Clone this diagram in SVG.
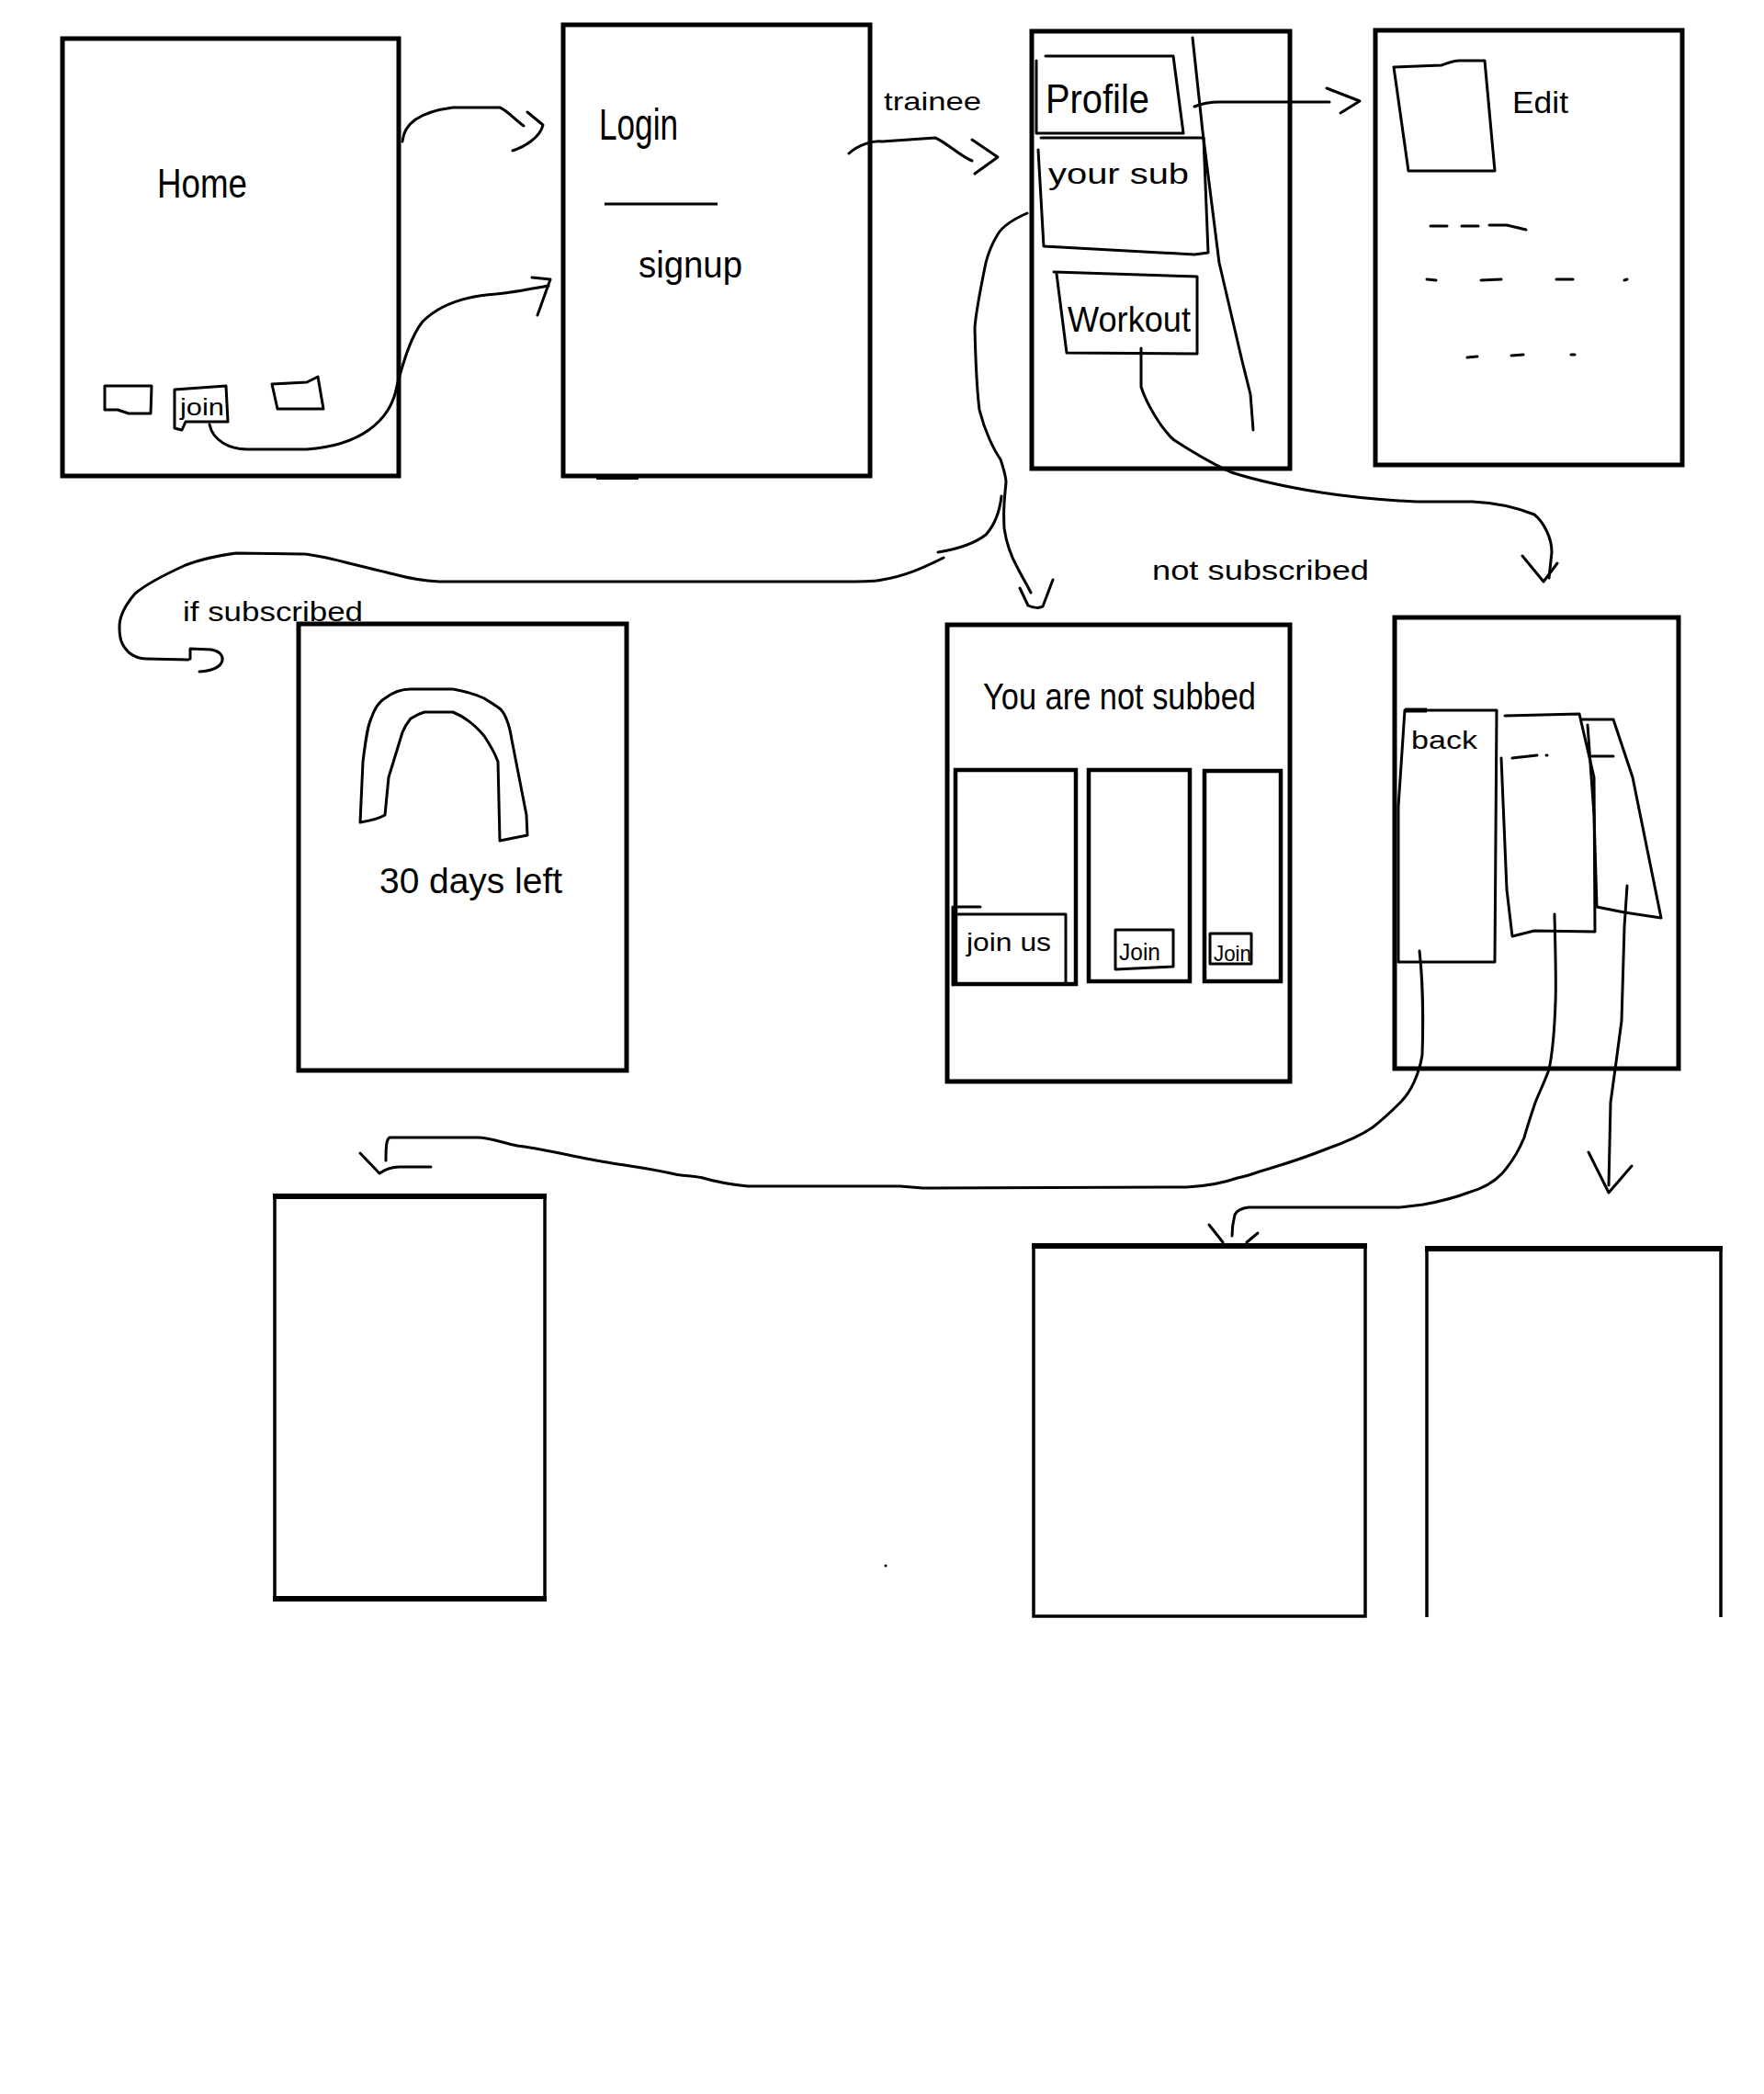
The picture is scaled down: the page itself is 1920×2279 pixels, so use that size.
<svg xmlns="http://www.w3.org/2000/svg" width="1920" height="2279" viewBox="0 0 1920 2279">
<style>
.scr{fill:none;stroke:#000;stroke-width:5}
.thin{fill:none;stroke:#000;stroke-width:3;stroke-linejoin:round;stroke-linecap:round}
.mid{fill:none;stroke:#000;stroke-width:4.5}
.con{fill:none;stroke:#000;stroke-width:3;stroke-linejoin:round;stroke-linecap:round}
.t{font-family:"Liberation Sans","DejaVu Sans",sans-serif;fill:#000}
</style>
<rect width="1920" height="2279" fill="#fff"/>

<g id="home">
<rect class="scr" x="68" y="42" width="366" height="476"/>
<text class="t" x="171" y="215" font-size="44" textLength="98" lengthAdjust="spacingAndGlyphs">Home</text>
<path class="thin" d="M114,420 L165,420 L164,450 L140,450 L128,446 L114,446 Z"/>
<path class="thin" d="M190,424 L246,420 L248,459 L202,459 L198,468 L190,466 Z"/>
<text class="t" x="196" y="452" font-size="26" textLength="48" lengthAdjust="spacingAndGlyphs">join</text>
<path class="thin" d="M296,418 L334,416 L346,410 L352,445 L302,445 Z"/>
</g>

<g id="login">
<rect class="scr" x="613" y="27" width="334" height="491"/>
<line x1="649" y1="520" x2="695" y2="520" stroke="#000" stroke-width="4"/>
<text class="t" x="652" y="152" font-size="48" textLength="86" lengthAdjust="spacingAndGlyphs">Login</text>
<line x1="658" y1="222" x2="781" y2="222" stroke="#000" stroke-width="3"/>
<text class="t" x="695" y="302" font-size="40" textLength="113" lengthAdjust="spacingAndGlyphs">signup</text>
</g>

<g id="trainee-menu">
<rect class="scr" x="1123" y="34" width="281" height="476"/>
<path class="thin" d="M1138,61 L1277,61 L1288,145 L1128,145 L1128,66"/>
<text class="t" x="1138" y="123" font-size="44" textLength="113" lengthAdjust="spacingAndGlyphs">Profile</text>
<path class="thin" d="M1133,150 L1310,150 L1315,275 L1300,277 L1136,268 L1130,163"/>
<text class="t" x="1141" y="200" font-size="32" textLength="153" lengthAdjust="spacingAndGlyphs">your sub</text>
<path class="thin" d="M1147,296 L1303,301 L1303,385 L1161,384 L1150,298"/>
<text class="t" x="1162" y="361" font-size="38" textLength="134" lengthAdjust="spacingAndGlyphs">Workout</text>
<path class="thin" d="M1298,41 L1309,143 L1327,286 L1352,393 L1361,429 L1364,468"/>
</g>

<g id="edit-profile">
<rect class="scr" x="1497" y="33" width="334" height="473"/>
<path class="thin" d="M1517,73 L1569,71 C1578,68 1582,66 1588,66 L1616,66 L1627,186 L1533,186 Z"/>
<text class="t" x="1646" y="123" font-size="34" textLength="61" lengthAdjust="spacingAndGlyphs">Edit</text>
<path class="thin" d="M1557,246 L1575,246 M1591,246 L1609,246 M1621,245 L1640,245 L1661,250"/>
<path class="thin" d="M1553,304 L1563,305 M1612,305 L1634,304 M1694,304 L1712,304 M1768,305 L1771,304"/>
<path class="thin" d="M1597,389 L1608,388 M1645,387 L1658,386 M1710,386 L1714,386"/>
</g>

<g id="subscribed">
<rect class="scr" x="325" y="679" width="357" height="486"/>
<path class="thin" d="M392,895 L395,829 C398,805 400,790 404,782 C408,770 412,764 419,760 C428,753 438,750 447,750 L493,750 C505,752 518,756 527,760 C535,765 540,768 545,772 C552,780 555,792 557,805 L573,887 L574,909 L544,915 L542,829 C538,818 533,810 527,801 C518,790 505,780 493,775 L462,775 C455,777 450,780 447,782 C443,787 440,792 438,797 L423,846 L419,887 C414,890 405,893 392,895 Z"/>
<text class="t" x="413" y="972" font-size="38" textLength="199" lengthAdjust="spacingAndGlyphs">30 days left</text>
</g>

<g id="not-subscribed">
<rect class="scr" x="1031" y="680" width="373" height="497"/>
<text class="t" x="1070" y="772" font-size="40" textLength="297" lengthAdjust="spacingAndGlyphs">You are not subbed</text>
<rect class="mid" x="1040" y="838" width="131" height="233"/>
<rect class="mid" x="1185" y="838" width="110" height="230"/>
<rect class="mid" x="1311" y="839" width="83" height="229"/>
<path class="thin" d="M1043,987 L1067,987 M1043,995 L1160,995 L1160,1070 M1037,987 L1037,1072"/>
<text class="t" x="1052" y="1035" font-size="28" textLength="92" lengthAdjust="spacingAndGlyphs">join us</text>
<path class="thin" d="M1214,1012 L1277,1012 L1277,1052 L1214,1055 Z"/>
<text class="t" x="1218" y="1045" font-size="26" textLength="45" lengthAdjust="spacingAndGlyphs">Join</text>
<path class="thin" d="M1317,1016 L1362,1016 L1362,1049 L1317,1049 Z"/>
<text class="t" x="1321" y="1046" font-size="24" textLength="41" lengthAdjust="spacingAndGlyphs">Join</text>
</g>

<g id="workouts">
<rect class="scr" x="1518" y="672" width="309" height="491"/>
<path class="thin" d="M1529,773 L1629,773 L1627,1047 L1522,1047 L1522,878 L1529,773"/>
<line x1="1529" y1="773" x2="1553" y2="773" stroke="#000" stroke-width="5"/>
<text class="t" x="1536" y="815" font-size="28" textLength="72" lengthAdjust="spacingAndGlyphs">back</text>
<path class="thin" d="M1638,779 L1719,777 L1735,846 L1736,1014 L1670,1013 L1646,1019 L1640,968 L1634,825"/>
<path class="thin" d="M1646,825 L1673,822 M1683,822 L1684,822"/>
<path class="thin" d="M1722,783 L1756,783 L1777,846 L1808,999 L1768,993 L1738,987 L1735,887 L1728,789"/>
<path class="thin" d="M1733,823 L1756,823"/>
</g>

<g id="screen-a">
<rect x="299" y="1301" width="294" height="440" fill="none" stroke="#000" stroke-width="3.5"/>
<line x1="297" y1="1302" x2="595" y2="1302" stroke="#000" stroke-width="6"/>
<line x1="297" y1="1740" x2="595" y2="1740" stroke="#000" stroke-width="6"/>
</g>

<g id="screen-b">
<rect x="1125" y="1355" width="361" height="404" fill="none" stroke="#000" stroke-width="3.5"/>
<line x1="1123" y1="1356" x2="1488" y2="1356" stroke="#000" stroke-width="6"/>
</g>

<g id="screen-c">
<path d="M1553,1760 L1553,1360 L1873,1360 L1873,1760" fill="none" stroke="#000" stroke-width="3.5"/>
<line x1="1551" y1="1359" x2="1875" y2="1359" stroke="#000" stroke-width="6"/>
</g>

<g id="connectors">
<path class="con" d="M438,154 C440,128 470,120 493,117 L544,117 C552,120 560,130 570,137"/>
<path class="con" d="M574,122 L591,136 C588,150 570,160 558,164"/>
<path class="con" d="M228,462 C232,480 250,489 269,489 L334,489 C390,485 425,460 432,420 C440,390 448,365 460,350 C480,330 510,322 540,320 C560,318 580,314 597,311"/>
<path class="con" d="M579,302 L599,304 L585,343"/>
<path class="con" d="M924,167 C935,157 950,153 960,154 L1018,150 C1030,155 1045,170 1058,175"/>
<path class="con" d="M1058,152 L1086,171 L1061,189"/>
<text class="t" x="962" y="120" font-size="28" textLength="106" lengthAdjust="spacingAndGlyphs">trainee</text>
<path class="con" d="M1300,116 C1310,112 1318,111 1327,111 L1447,111"/>
<path class="con" d="M1444,96 L1480,110 L1459,123"/>
<path class="con" d="M1118,232 C1100,240 1090,248 1086,255 C1078,268 1075,278 1073,286 C1066,320 1062,340 1061,357 C1062,400 1064,430 1066,446 C1072,470 1082,490 1089,500 C1093,512 1095,520 1095,525 C1093,545 1092,555 1093,575 C1096,595 1102,608 1107,617 C1112,627 1117,635 1122,645"/>
<path class="con" d="M1110,640 L1119,659 C1125,662 1132,662 1135,660 L1146,631"/>
<path class="con" d="M1090,540 C1088,558 1082,572 1073,582 C1060,592 1040,598 1021,601 M1027,607 C1005,618 985,627 960,631 C950,633 940,633 900,633 L478,633 C460,632 440,628 429,625 C410,620 395,617 380,613 C360,608 345,604 331,603 L257,602 C235,605 215,610 202,615 C180,625 160,635 147,646 C135,660 130,672 130,682 C130,695 132,702 140,710 C145,714 150,717 159,717 L205,718"/>
<path class="con" d="M207,717 L207,706 L230,707 C240,709 243,714 242,719 C240,726 232,730 217,731"/>
<text class="t" x="199" y="676" font-size="30" textLength="196" lengthAdjust="spacingAndGlyphs">if subscribed</text>
<path class="con" d="M1242,379 L1242,421 C1248,440 1265,468 1278,479 C1295,490 1320,505 1340,514 C1365,522 1400,530 1438,536 C1470,541 1499,544 1542,546 L1603,546 C1625,547 1650,552 1670,560 C1680,568 1689,585 1689,601 L1686,629"/>
<path class="con" d="M1657,605 L1680,633 L1695,613"/>
<text class="t" x="1254" y="631" font-size="30" textLength="236" lengthAdjust="spacingAndGlyphs">not subscribed</text>
<path class="con" d="M1545,1035 C1549,1070 1549,1120 1548,1148 C1545,1168 1536,1188 1524,1200 C1512,1212 1503,1220 1494,1227 C1478,1238 1462,1244 1445,1250 C1420,1260 1395,1268 1371,1275 C1360,1279 1352,1281 1347,1282 C1330,1288 1310,1291 1292,1292 L1004,1293 L980,1291 L814,1291 C795,1289 778,1286 765,1282 C752,1279 743,1280 735,1278 C710,1272 690,1270 661,1265 C630,1260 590,1250 563,1247 C545,1243 532,1238 520,1238 L424,1238 C421,1240 420,1245 420,1263"/>
<path class="con" d="M392,1255 L413,1277 C420,1272 428,1270 435,1270 L469,1270"/>
<path class="con" d="M1692,995 C1693,1040 1694,1070 1693,1091 C1692,1120 1690,1145 1686,1164 C1680,1180 1675,1190 1671,1200 C1666,1215 1662,1227 1659,1238 C1652,1255 1644,1267 1635,1277 C1625,1288 1612,1294 1598,1298 C1580,1305 1565,1308 1549,1311 L1524,1314 L1359,1314 C1350,1315 1346,1318 1344,1322 C1342,1330 1341,1336 1341,1345"/>
<path class="con" d="M1316,1333 L1331,1352 M1357,1352 L1369,1342"/>
<path class="con" d="M1771,964 L1768,1009 L1765,1111 L1759,1156 L1753,1200 L1751,1290"/>
<path class="con" d="M1729,1254 L1751,1298 L1776,1269"/>
</g>
<circle cx="964" cy="1704" r="1.5" fill="#000"/>
</svg>
